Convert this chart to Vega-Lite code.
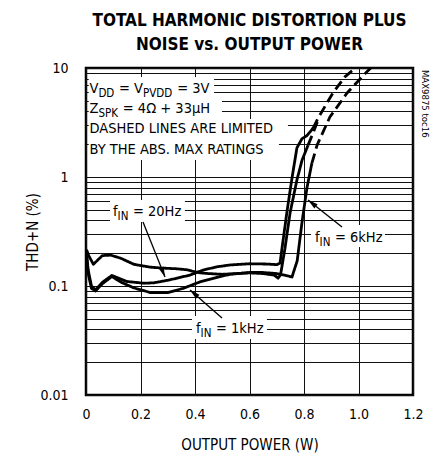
{
  "$schema": "https://vega.github.io/schema/vega-lite/v6.json",
  "width": 327,
  "height": 327,
  "autosize": {"type": "none"},
  "padding": {"left": 86, "top": 68, "right": 24, "bottom": 61},
  "background": "white",
  "title": {
    "text": ["TOTAL HARMONIC DISTORTION PLUS", "NOISE vs. OUTPUT POWER"],
    "font": "DejaVu Sans Condensed, Roboto",
    "fontSize": 17,
    "fontWeight": "bold",
    "lineHeight": 24,
    "color": "black",
    "anchor": "middle",
    "offset": 7
  },
  "config": {
    "font": "DejaVu Sans Condensed, Roboto",
    "view": {"stroke": "black", "strokeWidth": 2.5},
    "axis": {
      "grid": true, "gridColor": "#111", "gridWidth": 1, "gridOpacity": 1,
      "ticks": false, "domain": false,
      "labelFont": "DejaVu Sans Condensed, Roboto", "labelFontSize": 14, "labelColor": "black",
      "titleFont": "DejaVu Sans Condensed, Roboto", "titleFontSize": 15, "titleFontWeight": "normal", "titleColor": "black",
      "labelFlush": false, "labelOverlap": false
    }
  },
  "datasets": {
    "curves": [
      {"c":"a","s":"solid","x":0.002,"y":0.215},
      {"c":"a","s":"solid","x":0.01,"y":0.19},
      {"c":"a","s":"solid","x":0.027,"y":0.158},
      {"c":"a","s":"solid","x":0.045,"y":0.175},
      {"c":"a","s":"solid","x":0.06,"y":0.19},
      {"c":"a","s":"solid","x":0.09,"y":0.192},
      {"c":"a","s":"solid","x":0.127,"y":0.18},
      {"c":"a","s":"solid","x":0.176,"y":0.158},
      {"c":"a","s":"solid","x":0.235,"y":0.149},
      {"c":"a","s":"solid","x":0.28,"y":0.146},
      {"c":"a","s":"solid","x":0.33,"y":0.144},
      {"c":"a","s":"solid","x":0.37,"y":0.141},
      {"c":"a","s":"solid","x":0.393,"y":0.136},
      {"c":"a","s":"solid","x":0.42,"y":0.132},
      {"c":"a","s":"solid","x":0.45,"y":0.13},
      {"c":"a","s":"solid","x":0.5,"y":0.128},
      {"c":"a","s":"solid","x":0.55,"y":0.13},
      {"c":"a","s":"solid","x":0.6,"y":0.132},
      {"c":"a","s":"solid","x":0.65,"y":0.13},
      {"c":"a","s":"solid","x":0.69,"y":0.126},
      {"c":"a","s":"solid","x":0.705,"y":0.118},
      {"c":"a","s":"solid","x":0.714,"y":0.127},
      {"c":"a","s":"solid","x":0.73,"y":0.22},
      {"c":"a","s":"solid","x":0.749,"y":0.47},
      {"c":"a","s":"solid","x":0.774,"y":0.94},
      {"c":"a","s":"solid","x":0.793,"y":1.43},
      {"c":"a","s":"solid","x":0.815,"y":1.96},
      {"c":"a","s":"dashed","x":0.815,"y":1.96},
      {"c":"a","s":"dashed","x":0.835,"y":2.6},
      {"c":"a","s":"dashed","x":0.851,"y":3.3},
      {"c":"b","s":"solid","x":0.002,"y":0.2},
      {"c":"b","s":"solid","x":0.008,"y":0.14},
      {"c":"b","s":"solid","x":0.02,"y":0.1},
      {"c":"b","s":"solid","x":0.035,"y":0.092},
      {"c":"b","s":"solid","x":0.06,"y":0.108},
      {"c":"b","s":"solid","x":0.095,"y":0.125},
      {"c":"b","s":"solid","x":0.15,"y":0.11},
      {"c":"b","s":"solid","x":0.213,"y":0.106},
      {"c":"b","s":"solid","x":0.25,"y":0.107},
      {"c":"b","s":"solid","x":0.308,"y":0.114},
      {"c":"b","s":"solid","x":0.382,"y":0.126},
      {"c":"b","s":"solid","x":0.43,"y":0.14},
      {"c":"b","s":"solid","x":0.48,"y":0.15},
      {"c":"b","s":"solid","x":0.53,"y":0.156},
      {"c":"b","s":"solid","x":0.6,"y":0.16},
      {"c":"b","s":"solid","x":0.664,"y":0.159},
      {"c":"b","s":"solid","x":0.7,"y":0.157},
      {"c":"b","s":"solid","x":0.712,"y":0.162},
      {"c":"b","s":"solid","x":0.723,"y":0.26},
      {"c":"b","s":"solid","x":0.738,"y":0.49},
      {"c":"b","s":"solid","x":0.756,"y":0.98},
      {"c":"b","s":"solid","x":0.774,"y":1.85},
      {"c":"b","s":"solid","x":0.793,"y":2.25},
      {"c":"b","s":"solid","x":0.811,"y":2.4},
      {"c":"b","s":"solid","x":0.833,"y":2.8},
      {"c":"b","s":"dashed","x":0.833,"y":2.8},
      {"c":"b","s":"dashed","x":0.851,"y":3.45},
      {"c":"b","s":"dashed","x":0.906,"y":5.9},
      {"c":"b","s":"dashed","x":0.95,"y":8.3},
      {"c":"b","s":"dashed","x":0.976,"y":9.4},
      {"c":"b","s":"dashed","x":0.99,"y":10},
      {"c":"c","s":"solid","x":0.002,"y":0.19},
      {"c":"c","s":"solid","x":0.008,"y":0.13},
      {"c":"c","s":"solid","x":0.02,"y":0.095},
      {"c":"c","s":"solid","x":0.035,"y":0.09},
      {"c":"c","s":"solid","x":0.06,"y":0.105},
      {"c":"c","s":"solid","x":0.095,"y":0.122},
      {"c":"c","s":"solid","x":0.13,"y":0.108},
      {"c":"c","s":"solid","x":0.176,"y":0.096},
      {"c":"c","s":"solid","x":0.237,"y":0.087},
      {"c":"c","s":"solid","x":0.3,"y":0.087},
      {"c":"c","s":"solid","x":0.356,"y":0.095},
      {"c":"c","s":"solid","x":0.418,"y":0.109},
      {"c":"c","s":"solid","x":0.48,"y":0.12},
      {"c":"c","s":"solid","x":0.528,"y":0.128},
      {"c":"c","s":"solid","x":0.6,"y":0.133},
      {"c":"c","s":"solid","x":0.65,"y":0.133},
      {"c":"c","s":"solid","x":0.7,"y":0.13},
      {"c":"c","s":"solid","x":0.74,"y":0.124},
      {"c":"c","s":"solid","x":0.756,"y":0.121},
      {"c":"c","s":"solid","x":0.766,"y":0.145},
      {"c":"c","s":"solid","x":0.775,"y":0.17},
      {"c":"c","s":"solid","x":0.793,"y":0.39},
      {"c":"c","s":"solid","x":0.811,"y":0.8},
      {"c":"c","s":"solid","x":0.829,"y":1.34},
      {"c":"c","s":"dashed","x":0.829,"y":1.34},
      {"c":"c","s":"dashed","x":0.848,"y":1.96},
      {"c":"c","s":"dashed","x":0.895,"y":3.55},
      {"c":"c","s":"dashed","x":0.958,"y":5.9},
      {"c":"c","s":"dashed","x":1.03,"y":9.2},
      {"c":"c","s":"dashed","x":1.045,"y":10}
    ],
    "boxes": [
      {"x":0.01,"x2":0.47,"y":5.307,"y2":8.27},
      {"x":0.01,"x2":0.499,"y":3.405,"y2":5.307},
      {"x":0.01,"x2":0.741,"y":2.232,"y2":3.405},
      {"x":0.01,"x2":0.708,"y":1.432,"y2":2.232},
      {"x":0.088,"x2":0.363,"y":0.3867,"y2":0.615},
      {"x":0.389,"x2":0.664,"y":0.03265,"y2":0.0531},
      {"x":0.826,"x2":1.097,"y":0.2279,"y2":0.3627}
    ],
    "arrows": [
      {"x":0.2092,"y":0.3867,"x2":0.2899,"y2":0.121},
      {"x":0.4991,"y":0.05087,"x2":0.3817,"y2":0.0919},
      {"x":0.9394,"y":0.3477,"x2":0.8147,"y2":0.615}
    ],
    "heads": [
      {"x":0.283,"y":0.1333,"a":158},
      {"x":0.3956,"y":0.0857,"a":311},
      {"x":0.829,"y":0.5763,"a":308.5}
    ],
    "labels": [
      {"x":0.0128,"y":5.896,"t":"V","k":"main"},
      {"x":0.0455,"y":5.42,"t":"DD","k":"sub"},
      {"x":0.1207,"y":5.896,"t":"= V","k":"main"},
      {"x":0.2092,"y":5.42,"t":"PVDD","k":"sub"},
      {"x":0.3347,"y":5.896,"t":"= 3V","k":"main"},
      {"x":0.0128,"y":3.866,"t":"Z","k":"main"},
      {"x":0.0455,"y":3.552,"t":"SPK","k":"sub"},
      {"x":0.135,"y":3.866,"t":"= 4Ω + 33μH","k":"main"},
      {"x":0.0128,"y":2.533,"t":"DASHED LINES ARE LIMITED","k":"main"},
      {"x":0.0128,"y":1.626,"t":"BY THE ABS. MAX RATINGS","k":"main"},
      {"x":0.0991,"y":0.4387,"t":"f","k":"main"},
      {"x":0.116,"y":0.4032,"t":"IN","k":"sub"},
      {"x":0.1721,"y":0.4387,"t":"= 20Hz","k":"main"},
      {"x":0.4037,"y":0.03706,"t":"f","k":"main"},
      {"x":0.4206,"y":0.03405,"t":"IN","k":"sub"},
      {"x":0.4767,"y":0.03706,"t":"= 1kHz","k":"main"},
      {"x":0.8404,"y":0.2533,"t":"f","k":"main"},
      {"x":0.8573,"y":0.2328,"t":"IN","k":"sub"},
      {"x":0.9134,"y":0.2533,"t":"= 6kHz","k":"main"}
    ],
    "side": [
      {"x":1.244,"y":9.6,"t":"MAX9875 toc16"}
    ]
  },
  "encoding": {
    "x": {
      "field": "x", "type": "quantitative",
      "scale": {"domain": [0, 1.2], "nice": false, "zero": false},
      "axis": {
        "values": [0, 0.2, 0.4, 0.6, 0.8, 1.0, 1.2],
        "labelExpr": "datum.value == 0 ? '0' : format(datum.value, '.1f')",
        "labelPadding": 12,
        "title": "OUTPUT POWER (W)",
        "titleY": 54, "titleBaseline": "alphabetic"
      }
    },
    "y": {
      "field": "y", "type": "quantitative",
      "scale": {"type": "log", "domain": [0.01, 10], "nice": false},
      "axis": {
        "values": [0.01,0.02,0.03,0.04,0.05,0.06,0.07,0.08,0.09,0.1,0.2,0.3,0.4,0.5,0.6,0.7,0.8,0.9,1,2,3,4,5,6,7,8,9,10],
        "labelExpr": "(datum.value == 0.01 || datum.value == 0.1 || datum.value == 1 || datum.value == 10) ? format(datum.value, '~g') : ''",
        "labelPadding": 18,
        "title": "THD+N (%)",
        "titleX": -49, "titleBaseline": "alphabetic"
      }
    }
  },
  "layer": [
    {
      "data": {"name": "boxes"},
      "mark": {"type": "rect", "fill": "white", "stroke": null},
      "encoding": {"x2": {"field": "x2"}, "y2": {"field": "y2"}}
    },
    {
      "data": {"name": "curves"},
      "mark": {"type": "line", "color": "black", "strokeWidth": 2.8, "strokeCap": "butt", "strokeJoin": "round"},
      "encoding": {
        "detail": {"field": "c"},
        "strokeDash": {"field": "s", "type": "nominal", "scale": {"domain": ["solid", "dashed"], "range": [[1, 0], [10, 5]]}, "legend": null}
      }
    },
    {
      "data": {"name": "arrows"},
      "mark": {"type": "rule", "color": "black", "strokeWidth": 1.3},
      "encoding": {"x2": {"field": "x2"}, "y2": {"field": "y2"}}
    },
    {
      "data": {"name": "heads"},
      "mark": {"type": "point", "shape": "M0,-1L0.5,1L-0.5,1Z", "filled": true, "color": "black", "opacity": 1, "size": 110},
      "encoding": {"angle": {"field": "a", "type": "quantitative", "scale": null}}
    },
    {
      "data": {"name": "labels"},
      "mark": {"type": "text", "align": "left", "baseline": "alphabetic", "color": "black"},
      "encoding": {
        "text": {"field": "t"},
        "size": {"field": "k", "type": "nominal", "scale": {"domain": ["main", "sub"], "range": [14.5, 11.5]}, "legend": null}
      }
    },
    {
      "data": {"name": "side"},
      "mark": {"type": "text", "align": "left", "baseline": "middle", "angle": 90, "fontSize": 9.5, "color": "black", "clip": false},
      "encoding": {"text": {"field": "t"}}
    }
  ]
}
